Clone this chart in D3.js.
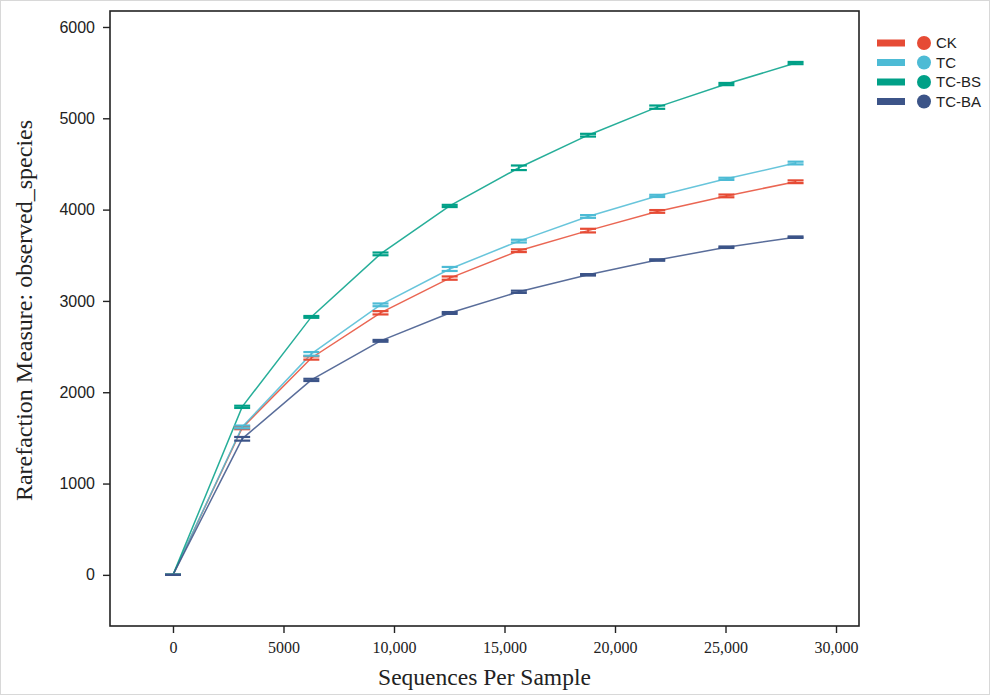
<!DOCTYPE html>
<html><head><meta charset="utf-8">
<script src="https://cdn.jsdelivr.net/npm/d3@7"></script>
<style>body{margin:0;background:#fff}</style>
</head><body>
<svg id="c" width="991" height="696"></svg>
<script>
const depths = [0, 3130, 6260, 9390, 12520, 15650, 18780, 21910, 25040, 28170];
const groups = ["CK", "TC", "TC-BS", "TC-BA"];
const colors = ["#E64B35", "#4DBBD5", "#00A087", "#3C5488"];
const CK   = [0, 1610, 2375, 2870, 3250, 3550, 3770, 3980, 4150, 4305];
const TC   = [0, 1620, 2420, 2957, 3350, 3655, 3925, 4150, 4337, 4510];
const TCBS = [0, 1840, 2825, 3515, 4040, 4458, 4815, 5122, 5375, 5605];
const TCBA = [0, 1490, 2135, 2563, 2868, 3100, 3286, 3448, 3588, 3698];
const errCK   = [0, 15, 18, 18, 18, 15, 20, 15, 15, 15];
const errTC   = [0, 15, 20, 15, 22, 15, 15, 12, 12, 15];
const errTCBS = [0, 12, 10, 15, 12, 25, 15, 18, 12, 12];
const errTCBA = [0, 20, 12, 10, 10, 12, 8, 8, 8, 8];
const xTicks = [0, 5000, 10000, 15000, 20000, 25000, 30000];
const xTickLabels = ["0", "5000", "10,000", "15,000", "20,000", "25,000", "30,000"];
const yTicks = [0, 1000, 2000, 3000, 4000, 5000, 6000];

const series = [CK, TC, TCBS, TCBA];
const errs = [errCK, errTC, errTCBS, errTCBA];

const svg = d3.select("#c");
const L = 110, R = 859, T = 11, B = 626;
const x = d3.scaleLinear().domain([-2850, 31040]).range([L, R]);
const y = d3.scaleLinear().domain([-560, 6175]).range([B, T]);

// outer faint border
svg.append("rect").attr("x",0.5).attr("y",0.5).attr("width",989).attr("height",694)
  .attr("fill","none").attr("stroke","#d8d8d8").attr("stroke-width",1);

// plot frame
svg.append("rect").attr("x",L).attr("y",T).attr("width",R-L).attr("height",B-T)
  .attr("fill","none").attr("stroke","#222").attr("stroke-width",1.6);

// x axis
const xa = svg.append("g").attr("transform",`translate(0,${B})`)
  .call(d3.axisBottom(x).tickValues(xTicks).tickSize(7).tickPadding(9)
    .tickFormat((d,i)=>xTickLabels[i]));
xa.select(".domain").remove();
xa.selectAll("line").attr("stroke","#222").attr("stroke-width",1.4);
xa.selectAll("text").attr("font-family","Liberation Serif, Times New Roman, serif")
  .attr("font-size",16).attr("fill","#222");

// y axis
const ya = svg.append("g").attr("transform",`translate(${L},0)`)
  .call(d3.axisLeft(y).tickValues(yTicks).tickSize(7).tickPadding(8).tickFormat(d3.format("d")));
ya.select(".domain").remove();
ya.selectAll("line").attr("stroke","#222").attr("stroke-width",1.4);
ya.selectAll("text").attr("font-family","Liberation Sans, Arial, sans-serif")
  .attr("font-size",16).attr("fill","#222");

// axis titles
svg.append("text").attr("x",(L+R)/2).attr("y",685).attr("text-anchor","middle")
  .attr("font-family","Liberation Serif, Times New Roman, serif").attr("font-size",23.5).attr("fill","#222")
  .text("Sequences Per Sample");
svg.append("text").attr("transform",`translate(32,${(T+B)/2 - 8}) rotate(-90)`).attr("text-anchor","middle")
  .attr("font-family","Liberation Serif, Times New Roman, serif").attr("font-size",24).attr("fill","#222")
  .text("Rarefaction Measure: observed_species");

// lines
const line = d3.line().x((d,i)=>x(depths[i])).y(d=>y(d));
series.forEach((s,k)=>{
  svg.append("path").datum(s).attr("d",line).attr("fill","none")
    .attr("stroke",colors[k]).attr("stroke-width",1.5).attr("opacity",0.85);
});
// error bars
series.forEach((s,k)=>{
  const g = svg.append("g").attr("stroke",colors[k]).attr("stroke-width",2.2);
  s.forEach((v,i)=>{
    const cx = x(depths[i]), e = errs[k][i];
    g.append("line").attr("x1",cx).attr("x2",cx).attr("y1",y(v-e)).attr("y2",y(v+e)).attr("stroke-width",1.5);
    g.append("line").attr("x1",cx-8).attr("x2",cx+8).attr("y1",y(v-e)).attr("y2",y(v-e));
    g.append("line").attr("x1",cx-8).attr("x2",cx+8).attr("y1",y(v+e)).attr("y2",y(v+e));
  });
});

// legend
const lg = svg.append("g");
groups.forEach((gname,k)=>{
  const yy = 43 + k*19.5;
  lg.append("rect").attr("x",877).attr("y",yy-3.5).attr("width",28).attr("height",7).attr("fill",colors[k]);
  lg.append("circle").attr("cx",924).attr("cy",yy).attr("r",7).attr("fill",colors[k]);
  lg.append("text").attr("x",936).attr("y",yy+5).attr("font-family","Liberation Sans, Arial, sans-serif")
    .attr("font-size",15).attr("fill","#222").text(gname);
});
</script>
</body></html>
